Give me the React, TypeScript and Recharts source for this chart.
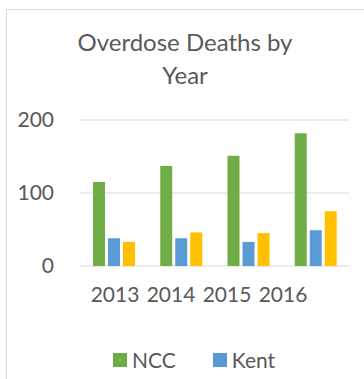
import { BarChart, Bar, XAxis, YAxis, CartesianGrid } from 'recharts';

const years = ['2013', '2014', '2015', '2016'];
const nccDeaths = [115, 137, 151, 182];
const kentDeaths = [38, 38, 33, 49];
const sussexDeaths = [33, 46, 45, 75];
const yTicks = [0, 100, 200];

const SERIES = [
  { key: 'NCC', values: nccDeaths, color: '#70AD47', inLegend: true },
  { key: 'Kent', values: kentDeaths, color: '#5B9BD5', inLegend: true },
  // legend entry for this one is cut off in the original
  { key: 'Sussex', values: sussexDeaths, color: '#FFC000', inLegend: false },
];

const chartData = years.map((year, i) => {
  const row: Record<string, string | number> = { year };
  SERIES.forEach((s) => {
    row[s.key] = s.values[i];
  });
  return row;
});

const TEXT = '#595959';
const GRID = '#d9d9d9';
const FONT = 'Lato, "Open Sans", sans-serif';

export default function App() {
  return (
    <div
      style={{
        position: 'fixed',
        left: 0,
        top: 0,
        width: 364,
        height: 379,
        background: '#fff',
        overflow: 'hidden',
        fontFamily: FONT,
      }}
    >
      <div
        style={{
          position: 'absolute',
          left: 6,
          top: 9,
          width: 400,
          height: 400,
          borderLeft: `1px solid ${GRID}`,
          borderTop: `1px solid ${GRID}`,
        }}
      />
      <div
        style={{
          position: 'absolute',
          left: 0,
          top: 25,
          width: 370,
          textAlign: 'center',
          color: TEXT,
          fontSize: 24,
          lineHeight: '33px',
        }}
      >
        Overdose Deaths by
        <br />
        Year
      </div>
      <div style={{ position: 'absolute', left: 0, top: 0 }}>
        <BarChart
          width={364}
          height={379}
          data={chartData}
          margin={{ top: 120, right: 15, left: 0, bottom: 83 }}
          barSize={12}
          barGap={3}
        >
          <CartesianGrid xAxisId="bars" vertical={false} stroke={GRID} />
          <XAxis xAxisId="bars" dataKey="year" hide height={0} />
          <XAxis
            xAxisId="labels"
            dataKey="year"
            height={30}
            padding={{ left: 7, right: 38 }}
            axisLine={false}
            tickLine={false}
            tickSize={0}
            tickMargin={21}
            tick={{ fill: TEXT, fontSize: 21, fontFamily: FONT }}
            interval={0}
          />
          <YAxis
            width={80}
            domain={[0, 200]}
            ticks={yTicks}
            axisLine={false}
            tickLine={false}
            tickSize={0}
            tickMargin={26}
            tick={{ fill: TEXT, fontSize: 21, fontFamily: FONT }}
          />
          {SERIES.map((s) => (
            <Bar
              key={s.key}
              xAxisId="bars"
              dataKey={s.key}
              fill={s.color}
              isAnimationActive={false}
            />
          ))}
        </BarChart>
      </div>
      <div
        style={{
          position: 'absolute',
          left: 113,
          top: 347,
          display: 'flex',
          alignItems: 'center',
          color: TEXT,
          fontSize: 21,
          lineHeight: '26px',
        }}
      >
        {SERIES.filter((s) => s.inLegend).map((s) => (
          <div key={s.key} style={{ display: 'flex', alignItems: 'center', marginRight: 37 }}>
            <span
              style={{
                display: 'inline-block',
                width: 14,
                height: 14,
                background: s.color,
                marginRight: 5,
              }}
            />
            {s.key}
          </div>
        ))}
      </div>
    </div>
  );
}
